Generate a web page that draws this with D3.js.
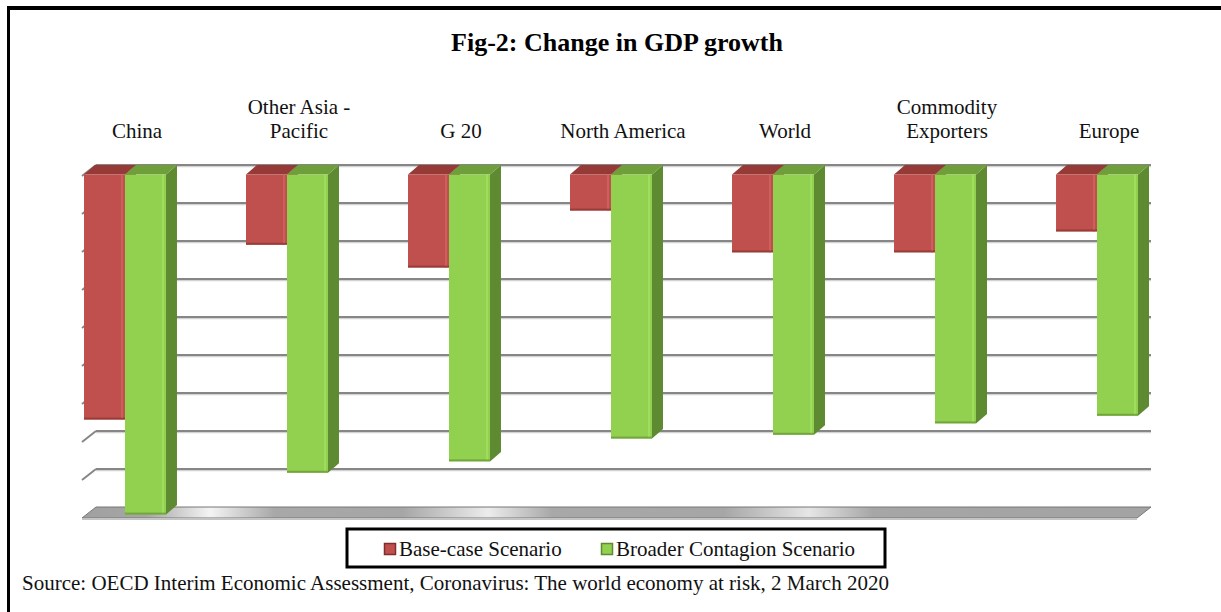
<!DOCTYPE html>
<html>
<head>
<meta charset="utf-8">
<script src="https://cdn.jsdelivr.net/npm/d3@7"></script>
<style>
  body { margin: 0; background: #fff; }
  text { font-family: 'Liberation Serif', 'Times New Roman', serif; fill: #111; }
</style>
</head>
<body>
<div id="chart"></div>
<script>
// data (change in GDP growth, % pts)
let categories = ['China', 'Other Asia - Pacific', 'G 20', 'North America', 'World', 'Commodity Exporters', 'Europe']
let labelLines = [['China'], ['Other Asia -', 'Pacific'], ['G 20'], ['North America'], ['World'], ['Commodity', 'Exporters'], ['Europe']]
let seriesNames = ['Base-case Scenario', 'Broader Contagion Scenario']
let baseCase = [-1.29, -0.37, -0.49, -0.19, -0.41, -0.41, -0.3]
let broader = [-1.79, -1.57, -1.51, -1.39, -1.37, -1.31, -1.27]
let gridValues = [0, -0.2, -0.4, -0.6, -0.8, -1.0, -1.2, -1.4, -1.6]

let width = 1221
let height = 612

// 3d offsets
let wallDx = 14
let wallDy = 11
let barDepthX = 11
let barDepthY = 9.5
let barShiftX = -12

let colors = {
  base: { front: '#c0504d', top: '#953a37', side: '#7f2e2c', light: '#cf6360' },
  broad: { front: '#92d050', top: '#6f9f3a', side: '#5e8a31', light: '#a3e062' }
}

let svg = d3
  .select('#chart')
  .append('svg')
  .attr('width', width)
  .attr('height', height)

// scales in back-wall coordinates
let xPositionScale = d3
  .scaleBand()
  .domain(categories)
  .range([96, 1150])
  .paddingInner(0.494)
  .paddingOuter(0)

let subScale = d3
  .scaleBand()
  .domain(seriesNames)
  .range([0, xPositionScale.bandwidth()])

let yPositionScale = d3
  .scaleLinear()
  .domain([0, -1.8])
  .range([165, 507])

let wallLeft = xPositionScale.range()[0]
let wallRight = 1151

// frame lines
svg.append('rect').attr('x', 7).attr('y', 6).attr('width', width - 7).attr('height', 4).attr('fill', '#000')
svg.append('rect').attr('x', 7).attr('y', 6).attr('width', 3).attr('height', height - 6).attr('fill', '#000')

// title
svg
  .append('text')
  .text('Fig-2: Change in GDP growth')
  .attr('x', 617)
  .attr('y', 51)
  .attr('text-anchor', 'middle')
  .attr('font-size', 26)
  .attr('font-weight', 'bold')
  .style('fill', '#000')

// gridlines on the back wall + little stubs on the side wall
let grid = svg.append('g').attr('class', 'grid')
gridValues.forEach(v => {
  let y = yPositionScale(v)
  grid
    .append('line')
    .attr('x1', wallLeft)
    .attr('x2', wallRight)
    .attr('y1', y + 1.5)
    .attr('y2', y + 1.5)
    .attr('stroke', '#d2d2d2')
    .attr('stroke-width', 1.5)
  grid
    .append('line')
    .attr('x1', wallLeft)
    .attr('x2', wallRight)
    .attr('y1', y)
    .attr('y2', y)
    .attr('stroke', '#868686')
    .attr('stroke-width', 2)
  grid
    .append('line')
    .attr('x1', wallLeft - wallDx)
    .attr('y1', y + wallDy)
    .attr('x2', wallLeft)
    .attr('y2', y)
    .attr('stroke', '#868686')
    .attr('stroke-width', 2)
})

// floor
let defs = svg.append('defs')
let floorGrad = defs
  .append('linearGradient')
  .attr('id', 'floorGrad')
  .attr('x1', '0%')
  .attr('x2', '100%')
floorGrad.selectAll('stop')
  .data([
    [0, '#a0a0a0'], [0.06, '#a6a6a6'], [0.12, '#f4f4f4'], [0.18, '#a8a8a8'], [0.3, '#a6a6a6'],
    [0.38, '#ececec'], [0.44, '#a8a8a8'], [0.6, '#a6a6a6'], [0.68, '#e6e6e6'], [0.74, '#a6a6a6'], [1, '#a3a3a3']
  ])
  .enter()
  .append('stop')
  .attr('offset', d => d[0])
  .attr('stop-color', d => d[1])

let yFloor = yPositionScale(-1.8)
svg
  .append('path')
  .attr('d', `M${wallLeft},${yFloor} L${wallRight},${yFloor} L${wallRight - wallDx},${yFloor + wallDy} L${wallLeft - wallDx},${yFloor + wallDy} Z`)
  .attr('fill', 'url(#floorGrad)')
  .attr('stroke', '#777')
  .attr('stroke-width', 1)
svg
  .append('rect')
  .attr('x', wallLeft - wallDx)
  .attr('y', yFloor + wallDy)
  .attr('width', wallRight - wallLeft)
  .attr('height', 2)
  .attr('fill', '#c4c4c4')

// bars
let barData = []
categories.forEach((c, i) => {
  barData.push({ cat: c, series: seriesNames[0], value: baseCase[i], col: colors.base })
  barData.push({ cat: c, series: seriesNames[1], value: broader[i], col: colors.broad })
})

let bw = subScale.bandwidth()
let bars = svg
  .selectAll('.bar')
  .data(barData)
  .enter()
  .append('g')
  .attr('class', 'bar')

bars.each(function(d) {
  let g = d3.select(this)
  let x0 = xPositionScale(d.cat) + subScale(d.series) + barShiftX
  let y0 = yPositionScale(0) + barDepthY
  let y1 = yPositionScale(d.value) + barDepthY
  // side face
  g.append('path')
    .attr('d', `M${x0 + bw},${y0} L${x0 + bw + barDepthX},${y0 - barDepthY} L${x0 + bw + barDepthX},${y1 - barDepthY} L${x0 + bw},${y1} Z`)
    .attr('fill', d.col.side)
  // top face
  g.append('path')
    .attr('d', `M${x0},${y0} L${x0 + barDepthX},${y0 - barDepthY} L${x0 + bw + barDepthX},${y0 - barDepthY} L${x0 + bw},${y0} Z`)
    .attr('fill', d.col.top)
  // front face
  g.append('rect')
    .attr('x', x0)
    .attr('y', y0)
    .attr('width', bw)
    .attr('height', y1 - y0)
    .attr('fill', d.col.front)
  // bevel highlight near the right edge
  g.append('rect')
    .attr('x', x0 + bw - 4)
    .attr('y', y0)
    .attr('width', 2)
    .attr('height', y1 - y0)
    .attr('fill', d.col.light)
    .attr('opacity', 0.8)
  g.append('rect')
    .attr('x', x0)
    .attr('y', y1 - 2)
    .attr('width', bw)
    .attr('height', 2)
    .attr('fill', d.col.side)
    .attr('opacity', 0.6)
})

// category labels on top
let labels = svg
  .selectAll('.cat-label')
  .data(categories)
  .enter()
  .append('text')
  .attr('class', 'cat-label')
  .attr('text-anchor', 'middle')
  .attr('font-size', 21)

labels.each(function(d, i) {
  let lines = labelLines[i]
  let cx = xPositionScale(d) + xPositionScale.bandwidth() / 2
  d3.select(this)
    .selectAll('tspan')
    .data(lines)
    .enter()
    .append('tspan')
    .attr('x', cx)
    .attr('y', (l, j) => 138 - (lines.length - 1 - j) * 24)
    .text(l => l)
})

// legend
let legend = svg.append('g').attr('class', 'legend')
legend
  .append('rect')
  .attr('x', 347)
  .attr('y', 529)
  .attr('width', 538)
  .attr('height', 38)
  .attr('fill', '#fff')
  .attr('stroke', '#000')
  .attr('stroke-width', 3)

let legendItems = [
  { name: seriesNames[0], col: colors.base, x: 384 },
  { name: seriesNames[1], col: colors.broad, x: 601 }
]
legendItems.forEach(item => {
  legend
    .append('rect')
    .attr('x', item.x + 0.5)
    .attr('y', 543.5)
    .attr('width', 11)
    .attr('height', 11)
    .attr('fill', item.col.front)
    .attr('stroke', item.col.side)
    .attr('stroke-width', 1.5)
  legend
    .append('text')
    .text(item.name)
    .attr('x', item.x + 15)
    .attr('y', 556)
    .attr('font-size', 21)
})

// source note
svg
  .append('text')
  .text('Source: OECD Interim Economic Assessment, Coronavirus: The world economy at risk, 2 March 2020')
  .attr('x', 22)
  .attr('y', 590)
  .attr('font-size', 21)
</script>
</body>
</html>
